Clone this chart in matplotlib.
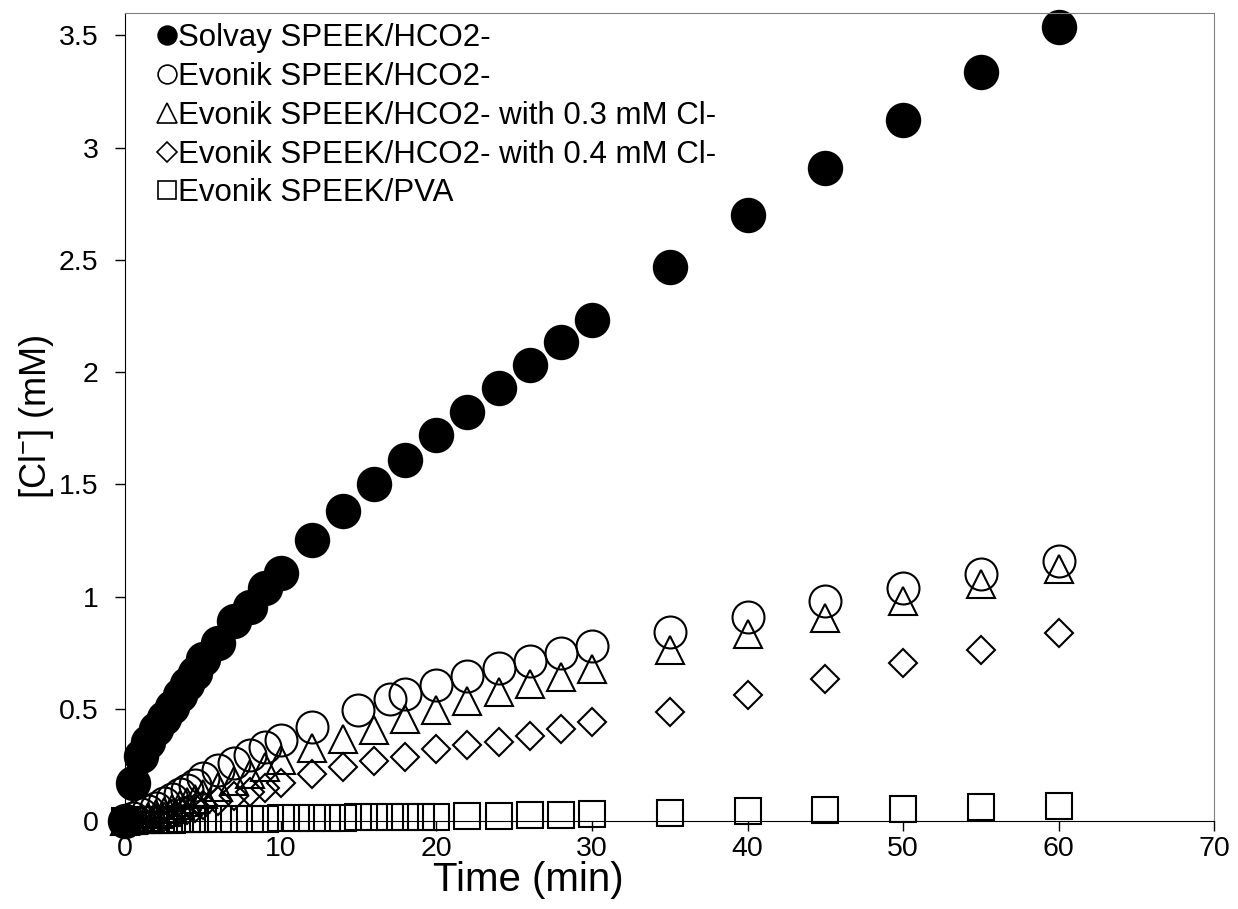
import matplotlib
matplotlib.use('Agg')
import matplotlib.pyplot as plt

plt.rcParams['font.family'] = ['Liberation Sans', 'DejaVu Sans']

# time points (min)
t_dense = [0, 0.5, 1, 1.5, 2, 2.5, 3, 3.5, 4, 4.5, 5, 6, 7, 8, 9, 10,
           12, 14, 16, 18, 20, 22, 24, 26, 28, 30, 35, 40, 45, 50, 55, 60]
t_evonik = [0, 0.5, 1, 1.5, 2, 2.5, 3, 3.5, 4, 4.5, 5, 6, 7, 8, 9, 10,
            12, 15, 17, 18, 20, 22, 24, 26, 28, 30, 35, 40, 45, 50, 55, 60]
t_pva = [0, 0.5, 1, 1.5, 2, 2.5, 3, 3.5, 4, 4.5, 5, 6, 7, 8, 9, 10,
         11, 12, 13, 14, 15, 16, 17, 18, 19, 20, 22, 24, 26, 28, 30,
         35, 40, 45, 50, 55, 60]

solvay = [0, 0.17, 0.29, 0.35, 0.41, 0.46, 0.51, 0.56, 0.61, 0.66, 0.72,
          0.795, 0.889, 0.955, 1.037, 1.107, 1.25, 1.38, 1.50, 1.61, 1.72,
          1.82, 1.93, 2.03, 2.135, 2.234, 2.47, 2.70, 2.91, 3.125, 3.335, 3.535]
evonik = [0, 0.015, 0.03, 0.045, 0.06, 0.08, 0.10, 0.12, 0.14, 0.16, 0.19,
          0.227, 0.257, 0.294, 0.328, 0.361, 0.42, 0.495, 0.543, 0.565, 0.606,
          0.648, 0.681, 0.715, 0.747, 0.78, 0.843, 0.909, 0.978, 1.04, 1.10, 1.159]
evonik_03 = [0, 0.005, 0.01, 0.02, 0.03, 0.04, 0.055, 0.07, 0.085, 0.10, 0.12,
             0.15, 0.18, 0.21, 0.239, 0.272, 0.325, 0.365, 0.407, 0.454, 0.495,
             0.534, 0.573, 0.611, 0.643, 0.677, 0.761, 0.833, 0.906, 0.982, 1.054, 1.124]
evonik_04 = [0, 0, 0.005, 0.01, 0.015, 0.02, 0.03, 0.04, 0.05, 0.06, 0.07,
             0.09, 0.11, 0.13, 0.146, 0.168, 0.208, 0.239, 0.269, 0.287, 0.321,
             0.339, 0.354, 0.38, 0.41, 0.443, 0.486, 0.563, 0.632, 0.703, 0.762, 0.838]
pva = [0, 0.002, 0.003, 0.004, 0.005, 0.006, 0.006, 0.007, 0.007, 0.008, 0.008,
       0.009, 0.009, 0.010, 0.011, 0.012, 0.012, 0.013, 0.014, 0.015, 0.016,
       0.016, 0.017, 0.018, 0.018, 0.019, 0.022, 0.023, 0.025, 0.027, 0.031,
       0.037, 0.043, 0.049, 0.055, 0.062, 0.067]

labels = ['Solvay SPEEK/HCO2-', 'Evonik SPEEK/HCO2-',
          'Evonik SPEEK/HCO2- with 0.3 mM Cl-',
          'Evonik SPEEK/HCO2- with 0.4 mM Cl-', 'Evonik SPEEK/PVA']
y_ticks = [0, 0.5, 1, 1.5, 2, 2.5, 3, 3.5]
y_ticklabels = ['0', '0.5', '1', '1.5', '2', '2.5', '3', '3.5']

fig = plt.figure(figsize=(12.38, 9.09), dpi=100)
ax = fig.add_axes([0.101, 0.0968, 0.880, 0.889])

kw = dict(linestyle='none', clip_on=False, markeredgecolor='black', markeredgewidth=1.5)
ax.plot(t_dense, solvay, marker='o', markersize=24, markerfacecolor='black',
        label=labels[0], **kw)
ax.plot(t_evonik, evonik, marker='o', markersize=23, markerfacecolor='none',
        label=labels[1], **kw)
ax.plot(t_dense, evonik_03, marker='^', markersize=20, markerfacecolor='none',
        label=labels[2], **kw)
ax.plot(t_dense, evonik_04, marker='D', markersize=14, markerfacecolor='none',
        label=labels[3], **kw)
ax.plot(t_pva, pva, marker='s', markersize=19, markerfacecolor='none',
        label=labels[4], **kw)

ax.set_xlim(0, 70)
ax.set_ylim(0, 3.6)
ax.set_xticks(range(0, 71, 10))
ax.set_yticks(y_ticks)
ax.set_yticklabels(y_ticklabels)
ax.tick_params(labelsize=20.5, length=7, width=1, direction='out')
ax.tick_params(axis='y', pad=12)
ax.tick_params(axis='x', pad=4)

for s in ['top', 'right']:
    ax.spines[s].set_color('#808080')
for s in ['left', 'bottom']:
    ax.spines[s].set_color('black')

ax.set_xlabel('Time (min)', fontsize=29)
ax.xaxis.set_label_coords(0.37, -0.049)
ax.set_ylabel('[Cl$^{\\mathregular{-}}$] (mM)', fontsize=26, labelpad=2)

leg = ax.legend(loc='upper left', frameon=False, fontsize=22.5,
                handlelength=0.64, handletextpad=0.05, labelspacing=0.28,
                borderpad=0, borderaxespad=0, bbox_to_anchor=(0.029, 0.987))
for h, ms in zip(leg.legend_handles, [13.5, 13.5, 14, 10, 13.5]):
    h.set_markersize(ms)
    h.set_markeredgewidth(1.2)

fig.savefig('out.png', dpi=100)
plt.close(fig)
